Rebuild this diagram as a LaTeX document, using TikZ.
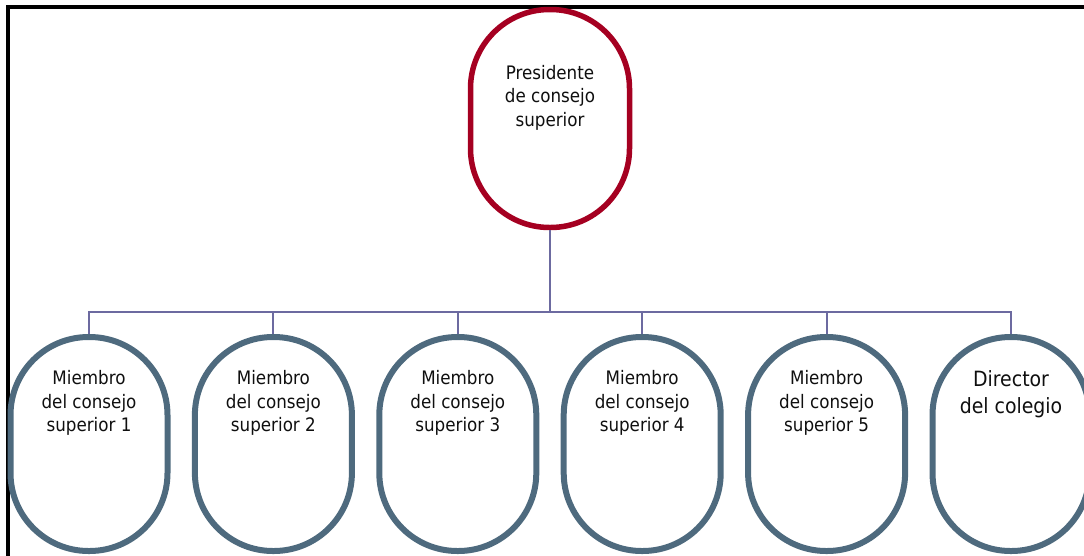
\documentclass[tikz,border=0pt]{standalone}
\usepackage{fontspec}
\setmainfont{DejaVu Sans Condensed}
\usetikzlibrary{positioning}
\definecolor{presred}{RGB}{165,0,33}
\definecolor{membblue}{RGB}{78,106,126}
\definecolor{linkcol}{RGB}{108,106,160}
\definecolor{txt}{RGB}{15,15,15}
\begin{document}
\begin{tikzpicture}[x=1pt,y=-1pt,
  presbox/.style={draw=presred,line width=5.5pt,minimum width=159pt,minimum height=218pt,rounded corners=79pt,inner sep=0pt},
  membbox/.style={draw=membblue,line width=6pt,minimum width=157pt,minimum height=214pt,rounded corners=78pt,inner sep=0pt},
  lbl/.style={inner sep=0pt,align=center,text=txt,font=\fontsize{18.6}{23.5}\selectfont},
  biglbl/.style={inner sep=0pt,align=center,text=txt,font=\fontsize{21}{27}\selectfont},
  link/.style={draw=linkcol,line width=2pt}]
\useasboundingbox (0,0) rectangle (1084,555);
\begin{scope}
\clip (0,0) rectangle (1084,555);
\draw[line width=4pt] (7.5,560) -- (7.5,6.5) -- (1090,6.5);
\node[presbox] (pres) at (550,118.5) {};
\node[membbox] (m1) at (89,444) {};
\node[membbox] (m2) at (273.4,444) {};
\node[membbox] (m3) at (457.8,444) {};
\node[membbox] (m4) at (642.2,444) {};
\node[membbox] (m5) at (826.6,444) {};
\node[membbox] (dir) at (1011,444) {};
\coordinate (bus) at (550,312);
\draw[link] (pres.south) -- (bus);
\foreach \n in {m1,m2,m3,m4,m5,dir} \draw[link] (\n.north) |- (bus);
\node[lbl,below=58pt of pres.north] (ptext) {Presidente\\de consejo\\superior};
\node[lbl,below=36.5pt of m1.north] (t1) {Miembro\\del consejo\\superior 1};
\node[lbl,below=36.5pt of m2.north] (t2) {Miembro\\del consejo\\superior 2};
\node[lbl,below=36.5pt of m3.north] (t3) {Miembro\\del consejo\\superior 3};
\node[lbl,below=36.5pt of m4.north] (t4) {Miembro\\del consejo\\superior 4};
\node[lbl,below=36.5pt of m5.north] (t5) {Miembro\\del consejo\\superior 5};
\node[biglbl,below=36.5pt of dir.north] (t6) {Director\\del colegio};
\end{scope}
\end{tikzpicture}
\end{document}
